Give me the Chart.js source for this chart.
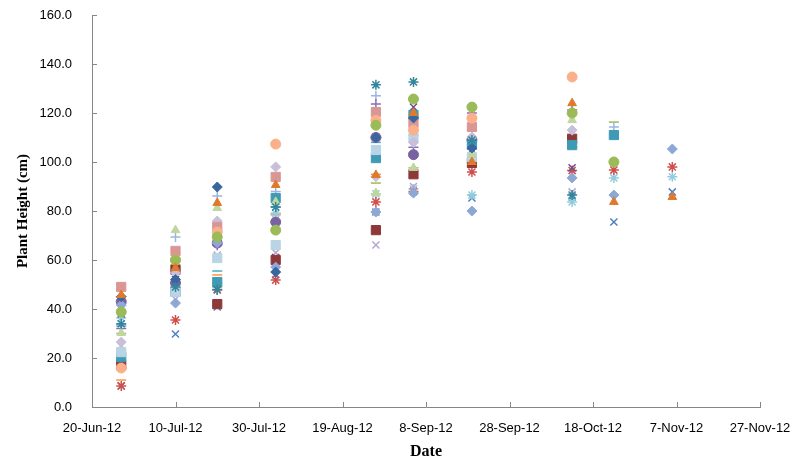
<!DOCTYPE html>
<html>
<head>
<meta charset="utf-8">
<script src="https://cdn.jsdelivr.net/npm/chart.js@4.4.1/dist/chart.umd.min.js"></script>
<style>
  html, body { margin: 0; padding: 0; background: #fff; }
  #wrap { width: 803px; height: 462px; }
</style>
</head>
<body>
<div id="wrap"><canvas id="plantChart" width="803" height="462"></canvas></div>
<script>
// sampling dates
var sampleDates = ['2012-06-27', '2012-07-10', '2012-07-20', '2012-08-03', '2012-08-27',
  '2012-09-05', '2012-09-19', '2012-10-13', '2012-10-23', '2012-11-06'];

// x axis tick labels (every 20 days from 20-Jun-12)
var tickLabels = ['20-Jun-12', '10-Jul-12', '30-Jul-12', '19-Aug-12', '8-Sep-12',
  '28-Sep-12', '18-Oct-12', '7-Nov-12', '27-Nov-12'];

// plant heights (cm), one list per plant
var pinkSquare     = [49.0, 63.7, 73.5, 93.9, 120.4, 115.9, 114.3, null, null, null];
var orangeTriangle = [45.7, 56.7, 83.3, 90.6, 94.7, 120.0, 100.0, 124.0, 83.7, 85.7];
var blueDiamond    = [41.6, 42.4, 67.0, 57.1, 79.6, 87.3, 80.0, 93.5, 86.5, 105.3];
var greenCircle    = [38.8, 60.0, 69.4, 72.2, 115.0, 125.7, 122.4, 120.0, 100.0, null];
var lightBlueStar  = [36.3, 47.0, 50.6, 79.0, 87.0, 89.0, 86.5, 83.7, 93.5, 94.0];
var paleTriangle   = [30.2, 72.2, 81.2, 83.7, 87.3, 97.6, 103.0, 117.1, null, null];
var lavDiamond     = [26.5, 54.7, 75.9, 98.0, 94.0, 108.0, 110.2, 113.0, null, null];
var paleSquare     = [22.4, 47.0, 60.8, 66.1, 104.9, 109.8, 102.0, null, null, null];
var darkRedSquare  = [17.1, 56.0, 42.0, 60.0, 72.2, 95.0, 99.6, 109.5, null, null];
var peachCircle    = [15.9, 60.0, 71.4, 107.3, 117.0, 113.0, 117.9, 134.7, null, null];
var orangeDash     = [11.0, 51.0, 53.9, 78.4, 95.0, 119.0, 113.0, 106.0, null, null];
var redStar        = [8.6, 35.5, 47.8, 51.8, 83.7, 88.0, 95.9, 96.5, 96.7, 98.0];
var blueX          = [8.6, 29.8, 40.8, 54.0, 79.6, 88.0, 85.3, 85.7, 75.5, 87.8];
var tealStar       = [34.0, 49.0, 48.0, 81.6, 131.5, 132.7, 109.0, 86.5, null, null];
var purplePlus     = [32.0, 56.0, 66.0, 81.6, 123.7, 106.0, 120.0, 121.2, null, null];
var navyDiamond    = [45.0, 52.0, 89.8, 55.1, 110.0, 118.0, 105.7, null, null, null];
var tealSquare     = [20.4, 47.0, 51.0, 85.3, 101.6, 119.2, 107.0, 106.9, 111.0, null];
var purpleX        = [38.0, 52.0, 66.9, 61.0, 110.2, 122.4, 105.0, 97.6, null, null];
var bluePlus       = [33.0, 69.4, 86.1, 88.0, 127.0, 111.0, 102.0, null, 114.3, null];
var lavenderX      = [25.0, 44.0, 62.0, 63.0, 66.1, 90.0, 108.0, 87.8, null, null];
var purpleCircle   = [43.0, 50.6, 66.9, 75.5, 110.0, 103.0, 109.0, null, null, null];
var greenDash      = [30.0, 58.0, 49.0, 61.0, 91.4, 97.6, 100.5, null, 116.3, null];
var tealDash       = [33.5, 57.0, 55.5, 79.0, 108.0, 118.0, 107.0, 106.0, null, null];

var yTicks = [0, 20, 40, 60, 80, 100, 120, 140, 160];

var dayMs = 86400000;
var startDay = Date.UTC(2012, 5, 20);
function dayOffset(s) {
  var p = s.split('-');
  return (Date.UTC(+p[0], +p[1] - 1, +p[2]) - startDay) / dayMs;
}
var xDays = sampleDates.map(dayOffset);

function makeSet(name, values, style, color) {
  var pts = [];
  for (var i = 0; i < values.length; i++) {
    if (values[i] !== null) pts.push({ x: xDays[i], y: values[i] });
  }
  var stroke = ['cross', 'crossRot', 'star', 'line'].indexOf(style) >= 0;
  var radius = style == 'rect' ? 6.5 : 5;
  return {
    label: name,
    data: pts,
    pointStyle: style,
    pointRadius: radius,
    pointBackgroundColor: color,
    pointBorderColor: color,
    pointBorderWidth: stroke ? 1.5 : 1,
    showLine: false
  };
}

var datasets = [
  makeSet('tealStar', tealStar, 'star', '#31859C'),
  makeSet('orangeTriangle', orangeTriangle, 'triangle', '#E0792B'),
  makeSet('greenCircle', greenCircle, 'circle', '#9BBB59'),
  makeSet('peachCircle', peachCircle, 'circle', '#FAB08A'),
  makeSet('navyDiamond', navyDiamond, 'rectRot', '#3A66A0'),
  makeSet('pinkSquare', pinkSquare, 'rect', '#D99694'),
  makeSet('blueDiamond', blueDiamond, 'rectRot', '#8EA8D6'),
  makeSet('lavDiamond', lavDiamond, 'rectRot', '#C8BFDA'),
  makeSet('paleTriangle', paleTriangle, 'triangle', '#BFD79F'),
  makeSet('paleSquare', paleSquare, 'rect', '#B9D4E4'),
  makeSet('tealSquare', tealSquare, 'rect', '#3F9AB6'),
  makeSet('darkRedSquare', darkRedSquare, 'rect', '#8E3838'),
  makeSet('purpleCircle', purpleCircle, 'circle', '#7A62A0'),
  makeSet('purplePlus', purplePlus, 'cross', '#8A6FB5'),
  makeSet('bluePlus', bluePlus, 'cross', '#9BB7DC'),
  makeSet('purpleX', purpleX, 'crossRot', '#6A4F8E'),
  makeSet('lavenderX', lavenderX, 'crossRot', '#B4A7D0'),
  makeSet('redStar', redStar, 'star', '#CF4F4C'),
  makeSet('lightBlueStar', lightBlueStar, 'star', '#93CDDD'),
  makeSet('blueX', blueX, 'crossRot', '#4F81BD'),
  makeSet('orangeDash', orangeDash, 'line', '#F79646'),
  makeSet('greenDash', greenDash, 'line', '#9BBB59'),
  makeSet('tealDash', tealDash, 'line', '#4BACC6')
];

// Excel style tick marks pointing into the plot area
var insideTicks = {
  id: 'insideTicks',
  afterDraw: function(chart) {
    var ctx = chart.ctx;
    var xs = chart.scales.x, ys = chart.scales.y;
    ctx.save();
    ctx.strokeStyle = '#868686';
    ctx.lineWidth = 1;
    ctx.beginPath();
    xs.ticks.forEach(function(t) {
      var px = Math.round(xs.getPixelForValue(t.value)) + 0.5;
      ctx.moveTo(px, ys.bottom);
      ctx.lineTo(px, ys.bottom - 5);
    });
    ys.ticks.forEach(function(t) {
      var py = Math.round(ys.getPixelForValue(t.value)) + 0.5;
      ctx.moveTo(xs.left, py);
      ctx.lineTo(xs.left + 5, py);
    });
    ctx.stroke();
    ctx.restore();
  }
};

var tickFont = { family: "'Liberation Sans Narrow', 'Arial Narrow', 'Liberation Sans', sans-serif", size: 13 };
var titleFont = { family: "'Liberation Serif', 'Times New Roman', serif", size: 16, weight: 'bold' };

new Chart(document.getElementById('plantChart').getContext('2d'), {
  type: 'scatter',
  data: { datasets: datasets },
  options: {
    responsive: false,
    animation: false,
    layout: { padding: { top: 15, right: 43, left: 0, bottom: 0 } },
    plugins: { legend: { display: false }, tooltip: { enabled: false } },
    scales: {
      x: {
        type: 'linear',
        min: 0,
        max: 160,
        afterBuildTicks: function(scale) {
          scale.ticks = tickLabels.map(function(l, i) { return { value: i * 20 }; });
        },
        afterFit: function(scale) { scale.height = 55; },
        grid: { display: false },
        border: { display: true, color: '#868686', width: 1 },
        ticks: {
          color: '#000',
          font: tickFont,
          padding: 6,
          maxRotation: 0,
          autoSkip: false,
          callback: function(v) { return tickLabels[Math.round(v / 20)]; }
        },
        title: { display: true, text: 'Date', color: '#000', font: titleFont, padding: { top: 2, bottom: 1 } }
      },
      y: {
        min: 0,
        max: 160,
        afterBuildTicks: function(scale) {
          scale.ticks = yTicks.map(function(v) { return { value: v }; });
        },
        afterFit: function(scale) {
          scale.width = 92;
          scale.paddingTop = 0;
          scale.paddingBottom = 0;
        },
        grid: { display: false },
        border: { display: true, color: '#868686', width: 1 },
        ticks: {
          color: '#000',
          font: tickFont,
          padding: 12,
          callback: function(v) { return Number(v).toFixed(1); }
        },
        title: { display: true, text: 'Plant Height (cm)', color: '#000', font: { family: titleFont.family, size: 15, weight: 'bold' }, padding: { top: 14, bottom: 4 } }
      }
    }
  },
  plugins: [insideTicks]
});
</script>
</body>
</html>
